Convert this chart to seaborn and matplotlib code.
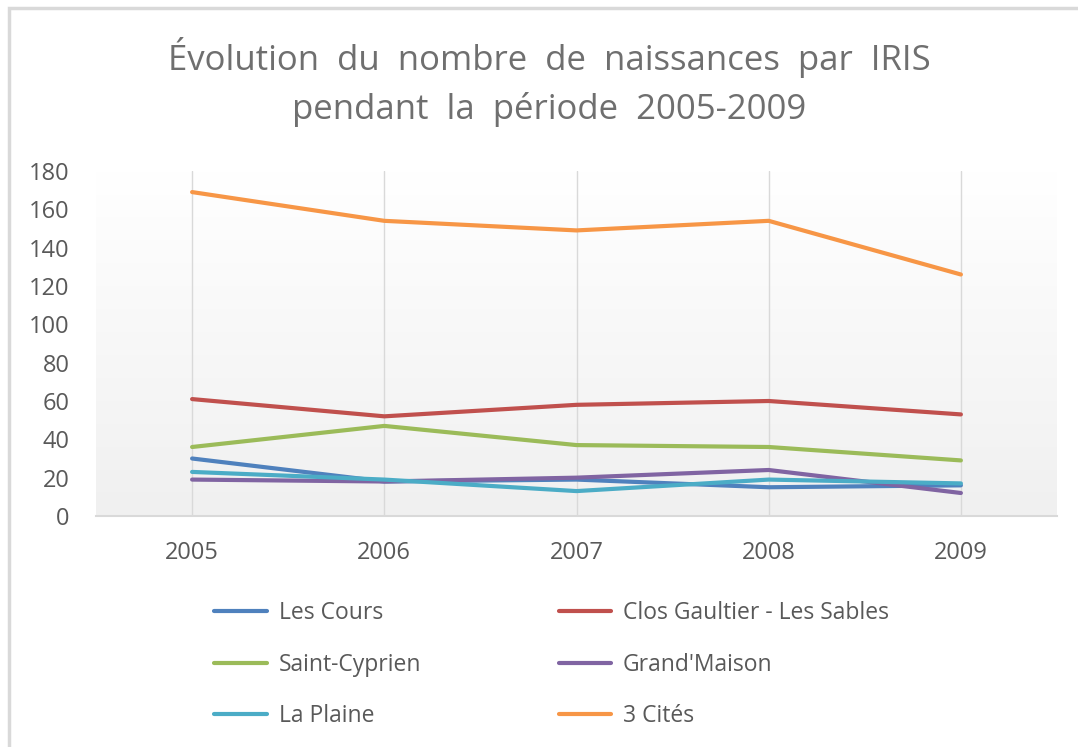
import numpy as np
import pandas as pd
import seaborn as sns
import matplotlib.pyplot as plt
from matplotlib.patches import Rectangle

# Values
years = [2005, 2006, 2007, 2008, 2009]
les_cours = [30, 18, 19, 15, 16]
clos_gaultier = [61, 52, 58, 60, 53]
saint_cyprien = [36, 47, 37, 36, 29]
grand_maison = [19, 18, 20, 24, 12]
la_plaine = [23, 19, 13, 19, 17]
trois_cites = [169, 154, 149, 154, 126]

series_names = ["Les Cours", "Clos Gaultier - Les Sables", "Saint-Cyprien",
                "Grand'Maison", "La Plaine", "3 Cités"]
series_values = [les_cours, clos_gaultier, saint_cyprien,
                 grand_maison, la_plaine, trois_cites]
colors = ["#4F81BD", "#C0504D", "#9BBB59", "#8064A2", "#4BACC6", "#F79646"]

title = "Évolution  du  nombre  de  naissances  par  IRIS\npendant  la  période  2005-2009"

# Long-form table for seaborn
rows = []
for name, vals in zip(series_names, series_values):
    for y, v in zip(years, vals):
        rows.append({"Année": y, "Naissances": v, "IRIS": name})
df = pd.DataFrame(rows)

sns.set_theme(style="white")
plt.rcParams['font.family'] = ['Open Sans', 'DejaVu Sans']
text_grey = "#595959"

fig = plt.figure(figsize=(10.78, 7.47), dpi=100)
ax = fig.add_axes([96 / 1078, 1 - 516 / 747, (1057 - 96) / 1078, (516 - 171) / 747])

# chart border (only left and top are visible in the reference)
fig.patches.append(Rectangle((9 / 1078, -0.1), 1.2, 1 - 8 / 747 + 0.1, transform=fig.transFigure,
                             fill=False, edgecolor="#d9d9d9", linewidth=2.5, zorder=0))

# gradient fill of the plot area: white at top to light grey at bottom
grad = np.linspace(0, 1, 256).reshape(-1, 1)
ax.imshow(grad, extent=[0, 1, 0, 1], transform=ax.transAxes, aspect="auto",
          cmap=sns.blend_palette(["#ffffff", "#f0f0f0"], as_cmap=True),
          origin="upper", zorder=0)

sns.lineplot(data=df, x="Année", y="Naissances", hue="IRIS", palette=colors,
             hue_order=series_names, linewidth=3, ax=ax, legend=True, zorder=3)

ax.set_xlim(2004.5, 2009.5)
ax.set_ylim(0, 180)
ax.set_xticks(years)
ax.set_yticks(range(0, 181, 20))
ax.tick_params(axis="both", length=0, labelsize=17, labelcolor=text_grey)
ax.tick_params(axis="y", pad=19)
ax.tick_params(axis="x", pad=18)
ax.set_xlabel("")
ax.set_ylabel("")
for y in years:
    ax.axvline(y, color="#d9d9d9", linewidth=1, zorder=1)
for side in ["left", "right", "top"]:
    ax.spines[side].set_visible(False)
ax.spines["bottom"].set_color("#d9d9d9")
ax.spines["bottom"].set_linewidth(1.5)

# legend in Excel row order (two columns)
handles, labels = ax.get_legend_handles_labels()
ax.get_legend().remove()
order = [0, 2, 4, 1, 3, 5]
fig.legend([handles[i] for i in order], [labels[i] for i in order], ncol=2,
           loc="upper left", bbox_to_anchor=(203 / 1078, 1 - 590 / 747),
           frameon=False, fontsize=16.5, labelcolor=text_grey,
           handlelength=2.3, handletextpad=0.5, labelspacing=1.2, columnspacing=6.0,
           borderpad=0)

fig.text(549 / 1078, 1 - 82 / 747, title, ha="center", va="center", fontsize=25,
         color="#6f6f6f", linespacing=1.5)

fig.savefig("out.png", dpi=100)
